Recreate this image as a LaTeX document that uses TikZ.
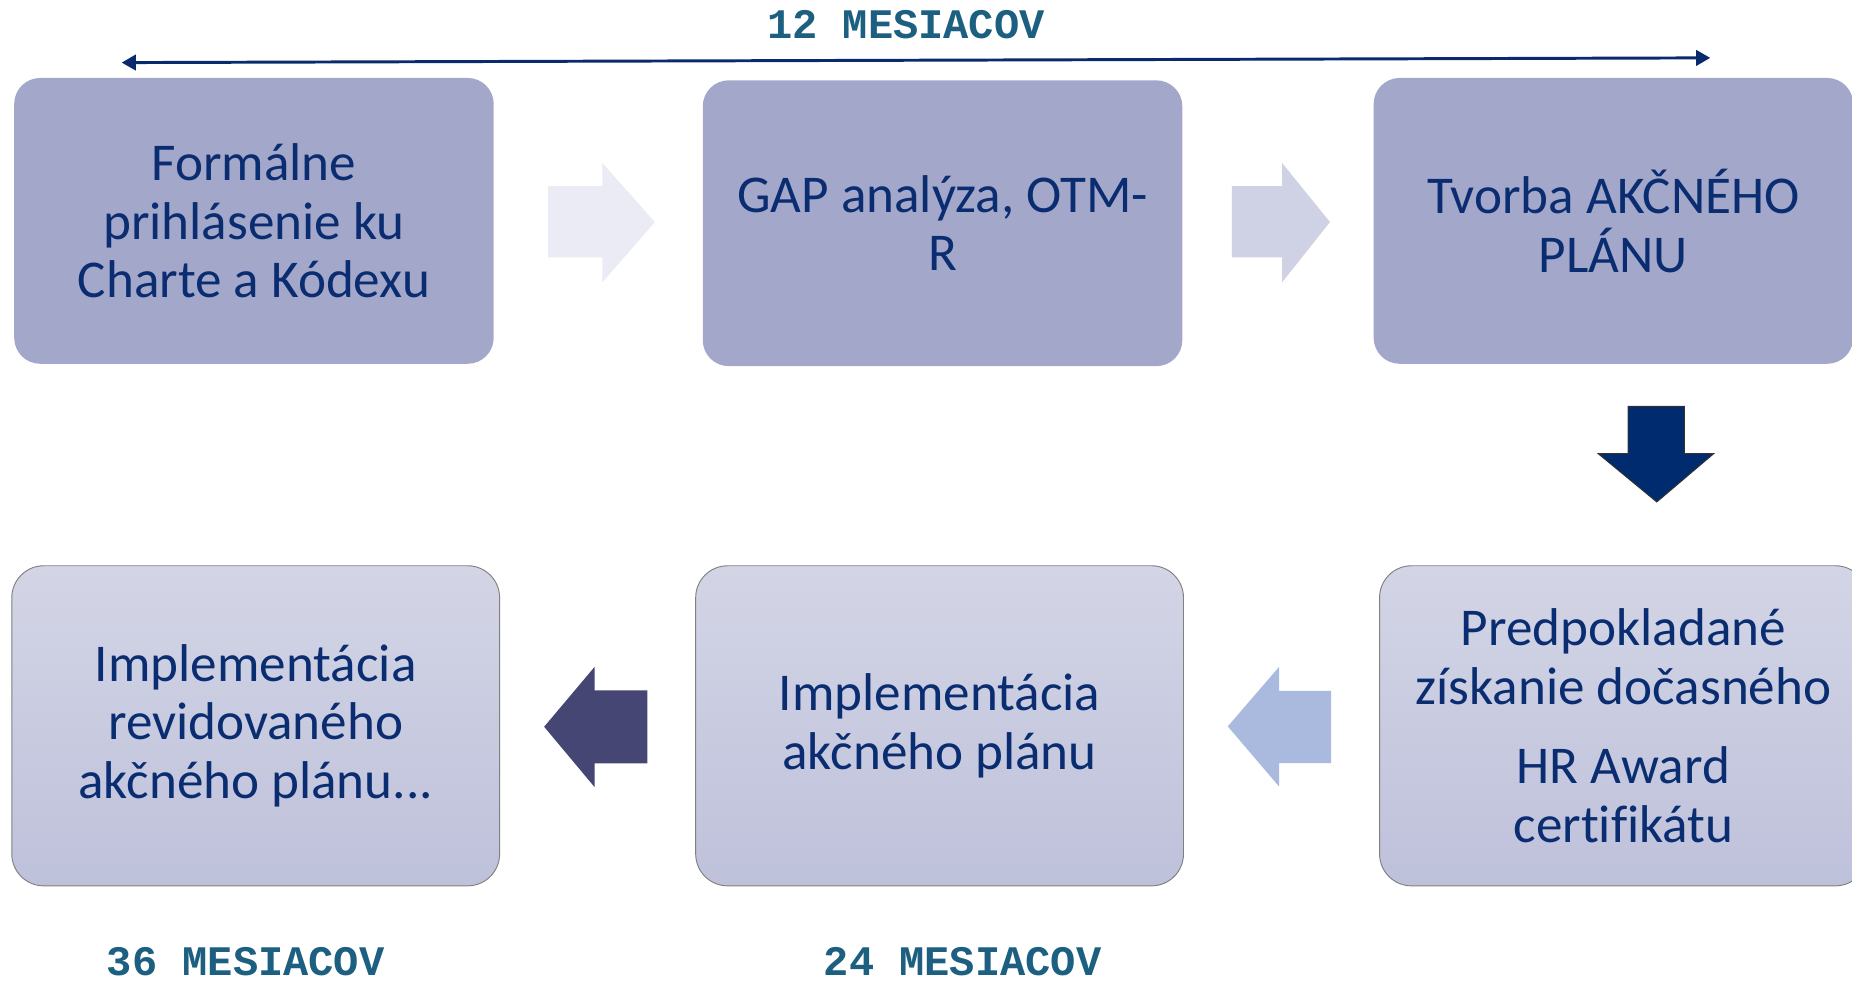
\documentclass[tikz,border=0pt]{standalone}
\usepackage{fontspec}
\setmainfont{Carlito}[Ligatures=NoCommon]
\newfontfamily\labfont{Liberation Mono}
\usetikzlibrary{arrows.meta}
\definecolor{topfill}{HTML}{A3A7C9}
\definecolor{txtblue}{HTML}{0A2C70}
\definecolor{labcol}{HTML}{1C5F80}
\definecolor{gradtop}{HTML}{D3D5E6}
\definecolor{gradbot}{HTML}{BEC1DA}
\definecolor{arrA}{HTML}{EAEBF4}
\definecolor{arrB}{HTML}{CFD1E4}
\definecolor{arrC}{HTML}{AAB9DE}
\definecolor{arrD}{HTML}{454673}
\definecolor{arrE}{HTML}{002B6E}
\definecolor{spanline}{HTML}{0A2A6E}
\tikzset{
  boxtext/.style={text=txtblue, align=center, font=\fontsize{45}{49.5}\selectfont},
  topbox/.style={boxtext, rectangle, fill=topfill, rounded corners=22pt,
    minimum width=406pt, minimum height=242pt, inner sep=0pt},
  botbox/.style={boxtext, rectangle, top color=gradtop, bottom color=gradbot,
    draw=black!50, line width=0.8pt, rounded corners=27pt,
    minimum width=413pt, minimum height=271pt, inner sep=0pt},
  monthlab/.style={text=labcol, font=\labfont\bfseries\fontsize{35.6}{40}\selectfont, anchor=base, inner sep=0pt},
}
\begin{document}
\begin{tikzpicture}[x=1pt,y=-1pt]
\useasboundingbox (0,0) rectangle (1568,832.3);
% top row
\node[topbox] (b1) at (215,187) {Formálne\\prihlásenie ku\\Charte a Kódexu};
\node[topbox] (b2) at (798,189) {GAP analýza, OTM-\\R};
\node[topbox] (b3) at (1366,187) {Tvorba AKČNÉHO\\PLÁNU};
% bottom row
\node[botbox] (b4) at (216.5,614.5) {Implementácia\\revidovaného\\akčného plánu...};
\node[botbox] (b5) at (795.5,614.5) {Implementácia\\akčného plánu};
\node[botbox] (b6) at (1374.5,614.5) {Predpokladané\\získanie dočasného\\[18pt]HR Award\\certifikátu};
% block arrows
\fill[arrA] (464,157.5) -- (510,157.5) -- (510,138) -- (554.5,188) -- (510,239) -- (510,218) -- (464,218) -- cycle;
\fill[arrB] (1043,157.5) -- (1085.5,157.5) -- (1085.5,138) -- (1126,188) -- (1085.5,239) -- (1085.5,218) -- (1043,218) -- cycle;
\filldraw[fill=arrE, draw=black!80, line width=0.8pt, line join=miter] (1378.5,344) -- (1426,344) -- (1426,384) -- (1451,384) -- (1402.7,425) -- (1353,384) -- (1378.5,384) -- cycle;
\fill[arrC] (1127,585) -- (1083,585) -- (1083,564.5) -- (1039.5,615) -- (1083,666) -- (1083,646) -- (1127,646) -- cycle;
\fill[arrD] (548,584.5) -- (503.5,584.5) -- (503.5,564.5) -- (460.7,615.3) -- (503.5,666.5) -- (503.5,646.4) -- (548,646.4) -- cycle;
% span arrow
\coordinate (sL) at (103,53);
\coordinate (sR) at (1448,49);
\draw[spanline, line width=2.5pt, {Triangle[length=12pt,width=13pt]}-{Triangle[length=12pt,width=13pt]}] (sL) -- (sR);
% labels
\node[monthlab] (l12) at (767,33) {12 MESIACOV};
\node[monthlab] (l36) at (208,826) {36 MESIACOV};
\node[monthlab] (l24) at (815,826) {24 MESIACOV};
\end{tikzpicture}
\end{document}
